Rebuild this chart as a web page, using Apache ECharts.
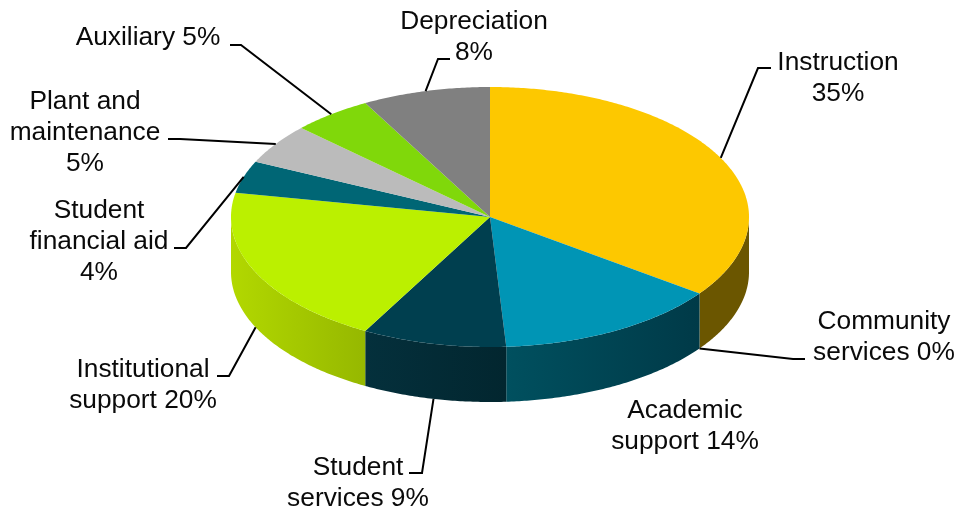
<!DOCTYPE html>
<html>
<head>
<meta charset="utf-8">
<style>html,body{margin:0;padding:0;background:#fff}#main{width:959px;height:510px}</style>
<script src="https://cdn.jsdelivr.net/npm/echarts@6/dist/echarts.min.js"></script>
</head>
<body>
<div id="main"></div>
<script>
// values, clockwise from 12 o'clock
var categories = ['Instruction', 'Community services', 'Academic support', 'Student services',
    'Institutional support', 'Student financial aid', 'Plant and maintenance', 'Auxiliary', 'Depreciation'];
var values = [35, 0, 14, 9, 20, 4, 5, 5, 8];
var labelTexts = ['Instruction\n35%', 'Community\nservices 0%', 'Academic\nsupport 14%', 'Student\nservices 9%',
    'Institutional\nsupport 20%', 'Student\nfinancial aid\n4%', 'Plant and\nmaintenance\n5%', 'Auxiliary 5%', 'Depreciation\n8%'];

var topColors = ['#fdc800', '#ffffff', '#0095b5', '#003f4f', '#bbf000', '#006675', '#bbbbbb', '#80d80a', '#808080'];
// left and right colour of the rim
var sideColors = [['#6b5600', '#6b5600'], ['#000', '#000'], ['#00505f', '#003a48'], ['#04303c', '#02262f'],
    ['#b2d800', '#96b800'], ['#000', '#000'], ['#000', '#000'], ['#000', '#000'], ['#000', '#000']];

// label centre [x, y], leader elbow [x, y], leader end x
var labelPos = [[838, 78], [884, 337], [685, 426], [358, 483], [143, 385], [99, 242], [85, 133], [148, 38], [474, 37]];
var leaders = [[758, 68, 771], [793, 359, 805], null, [422, 473, 409], [229, 376, 217], [186, 248, 174], [180, 139, 168], [241, 45, 230], [438, 59, 450]];

var cx = 490, cy = 217, rx = 259, ry = 130, depth = 55;
var total = values.reduce(function (a, b) { return a + b; }, 0);

var starts = [];
values.reduce(function (sum, v, i) { starts[i] = sum; return sum + v; }, 0);

function toAngle(v) {
    return echarts.number.linearMap(v, [0, total], [0, Math.PI * 2]);
}
function rimPoint(a, dy) {
    return [cx + rx * Math.sin(a), cy - ry * Math.cos(a) + (dy || 0)];
}
function arcPoints(a0, a1, dy) {
    var n = Math.max(2, Math.ceil((a1 - a0) / 0.01)), pts = [];
    for (var i = 0; i <= n; i++) {
        pts.push(rimPoint(a0 + (a1 - a0) * i / n, dy));
    }
    return pts;
}

function renderSide(params, api) {
    var i = params.dataIndex;
    var a0 = Math.max(toAngle(starts[i]), Math.PI / 2);
    var a1 = Math.min(toAngle(starts[i] + values[i]), Math.PI * 1.5);
    if (a1 <= a0) return { type: 'group', children: [] };
    var upper = arcPoints(a0, a1, 0);
    var lower = arcPoints(a0, a1, depth).reverse();
    var c = sideColors[i];
    return {
        type: 'polygon',
        shape: { points: upper.concat(lower) },
        style: {
            fill: new echarts.graphic.LinearGradient(0, 0, 1, 0, [
                { offset: 0, color: c[0] }, { offset: 1, color: c[1] }
            ])
        }
    };
}

function renderTop(params, api) {
    var i = params.dataIndex;
    if (!values[i]) return { type: 'group', children: [] };
    var pts = arcPoints(toAngle(starts[i]), toAngle(starts[i] + values[i]), 0);
    pts.unshift([cx, cy]);
    return { type: 'polygon', shape: { points: pts }, style: { fill: topColors[i] } };
}

function renderLabel(params, api) {
    var i = params.dataIndex;
    var mid = toAngle(starts[i] + values[i] / 2);
    var children = [{
        type: 'text',
        style: {
            x: labelPos[i][0], y: labelPos[i][1], text: labelTexts[i],
            align: 'center', verticalAlign: 'middle',
            fontFamily: '"Liberation Sans"', fontSize: 26.3, lineHeight: 31, fill: '#0a0a0a'
        }
    }];
    if (leaders[i]) {
        // front half of the pie is labelled from the bottom of the rim
        var anchor = rimPoint(mid, Math.cos(mid) < 0 ? depth : 0);
        var l = leaders[i];
        children.push({
            type: 'polyline',
            shape: { points: [anchor, [l[0], l[1]], [l[2], l[1]]] },
            style: { stroke: '#000', lineWidth: 2, fill: 'none' }
        });
    }
    return { type: 'group', children: children };
}

var myChart = echarts.init(document.getElementById('main'));
var pieData = categories.map(function (name, i) { return { name: name, value: values[i] }; });

var option = {
    animation: false,
    series: [
        { type: 'custom', coordinateSystem: 'none', renderItem: renderSide, data: pieData, z: 1, silent: true },
        { type: 'custom', coordinateSystem: 'none', renderItem: renderTop, data: pieData, z: 2, silent: true },
        { type: 'custom', coordinateSystem: 'none', renderItem: renderLabel, data: pieData, z: 3, silent: true }
    ]
};
myChart.setOption(option);
</script>
</body>
</html>
